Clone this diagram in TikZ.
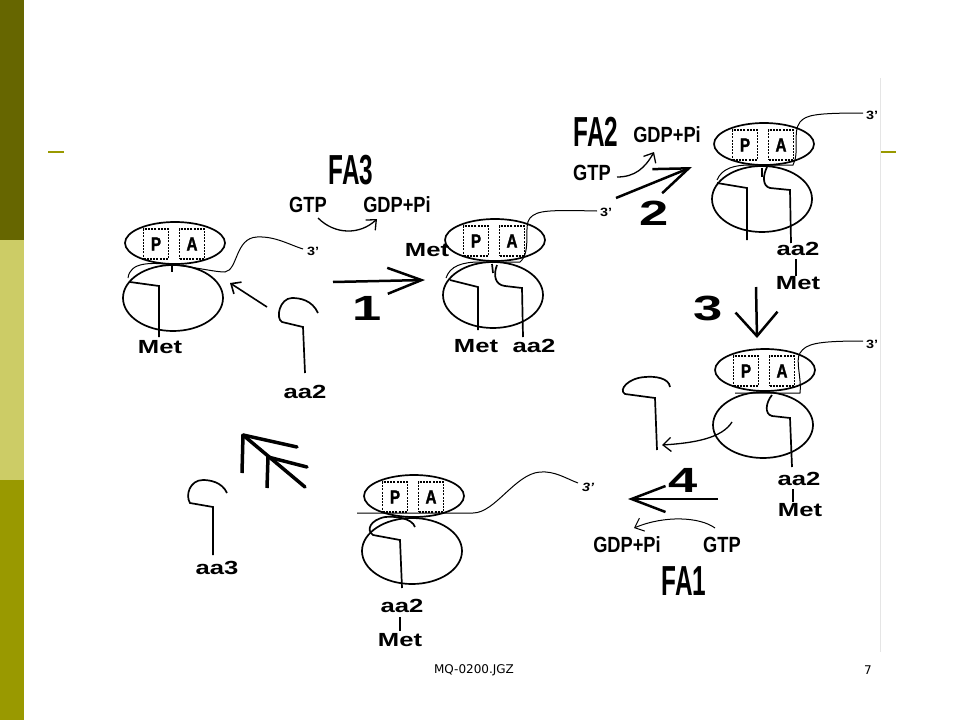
\documentclass[tikz,border=0pt]{standalone}
\usepackage{fontspec}
\setmainfont{Liberation Sans}
\newfontfamily\footfont{DejaVu Sans}
\newfontfamily\sitefont[FakeStretch=0.8,FakeBold=1.5]{Liberation Sans Bold}
\usetikzlibrary{shapes.geometric,arrows.meta}
\definecolor{olivedark}{RGB}{102,102,0}
\definecolor{olivelight}{RGB}{204,204,102}
\definecolor{olivemid}{RGB}{153,153,0}

\begin{document}
\begin{tikzpicture}[x=1pt,y=-1pt,
    big/.style={draw,ellipse,line width=1.7pt,minimum width=100pt,minimum height=42pt,inner sep=0pt},
    small/.style={draw,ellipse,line width=1.7pt,minimum width=100pt,minimum height=66pt,inner sep=0pt},
    site/.style={draw,dash pattern=on 2pt off 1.2pt,line width=1.2pt,minimum width=25pt,minimum height=30pt,inner sep=0pt,font=\sitefont\fontsize{19}{19}\selectfont},
    mrna/.style={line width=1pt},
    trna/.style={line width=1.7pt},
    lbl/.style={inner sep=0pt,xscale=1.35,font=\fontsize{19}{19}\bfseries},
    prime/.style={inner sep=0pt,xscale=1.2,font=\fontsize{12}{12}\bfseries},
    num/.style={inner sep=0pt,xscale=1.5,font=\fontsize{35}{35}\bfseries},
    fa/.style={inner sep=0pt,xscale=0.58,font=\fontsize{42}{42}\bfseries},
    gtp/.style={inner sep=0pt,xscale=0.83,font=\fontsize{22}{22}\bfseries},
    stepar/.style={line width=2.5pt,-{Straight Barb[length=34pt,width=26pt]}},
    thinar/.style={line width=1.3pt,-{Straight Barb[length=8pt,width=14pt]}}]
  \useasboundingbox (0,0) rectangle (960,720);
  \fill[white] (0,0) rectangle (960,720);
  % slide frame
  \fill[olivedark] (0,0) rectangle (24,240);
  \fill[olivelight] (0,240) rectangle (24,480);
  \fill[olivemid] (0,480) rectangle (24,720);
  \draw[olivemid,line width=2pt] (48,152) -- (64,152);
  \draw[olivemid,line width=2pt] (880,152) -- (896,152);
  \draw[gray!20] (880,78) -- (880,652);
  \node[font={\footfont\fontsize{12}{12}\selectfont}] (foot) at (474,670) {MQ-0200.JGZ};
  \node[font={\footfont\fontsize{12}{12}\selectfont}] (page) at (868,670) {7};

  % ribosomes
  \foreach \n/\x/\y in {ra/175/243, rb/495/240, rc/764/144, rd/765/370, re/414/496}{
    \node[big] (\n-big) at (\x,\y) {};
    \node[small] (\n-small) at ({\x-2},{\y+55}) {};
    \node[site] (\n-p) at ({\x-19},{\y+1}) {P};
    \node[site] (\n-a) at ({\x+17},{\y+1}) {A};
  }

  % ribosome a
  \draw[mrna] (128,278) .. controls (130,262) and (150,262) .. (175,265) .. controls (200,268) and (215,272) .. (225,272) .. controls (238,270) and (235,238) .. (257,237) .. controls (275,236) and (290,245) .. (303,249);
  \node[prime] (ra-3) at (313,251) {3'};
  \draw[trna] (130,282) -- (159,286) -- (159,337);
  \draw[trna] (172,263) -- (172,272);
  \node[lbl] (ra-met) at (160,347) {Met};
  \draw[trna] (318,313) .. controls (312,300) and (300,298) .. (292,298) .. controls (280,298) and (275,318) .. (282,322) -- (303,327) -- (305,373);
  \node[lbl] (aa2-free) at (305,392) {aa2};
  \draw[thinar,line width=1.6pt] (267,307) -- (230,283);

  % step 1
  \node[fa] (fa3) at (351,170) {FA3};
  \node[gtp] (gtp3) at (308,205) {GTP};
  \node[gtp] (gdp3) at (397,205) {GDP+Pi};
  \draw[thinar] (318,218) .. controls (335,235) and (360,235) .. (377,219);
  \coordinate (s1a) at (333,282);
  \coordinate (s1b) at (425,280);
  \draw[stepar] (s1a) -- (s1b);
  \node[num] (n1) at (367,308) {1};

  % ribosome b
  \node[lbl] (rb-met0) at (427,250) {Met};
  \draw[mrna] (446,278) .. controls (450,266) and (462,262) .. (480,262) -- (520,262) .. controls (532,252) and (523,225) .. (530,218) .. controls (537,210) and (550,210) .. (597,211);
  \node[prime] (rb-3) at (606,212) {3'};
  \draw[trna] (450,280) -- (478,287) -- (478,330);
  \draw[trna] (492,264) -- (493,273);
  \draw[trna] (497,265) .. controls (493,275) and (495,285) .. (505,286) -- (522,288) -- (523,337);
  \node[lbl] (rb-met) at (476,346) {Met};
  \node[lbl] (rb-aa) at (534,346) {aa2};

  % step 2
  \node[fa] (fa2) at (596,132) {FA2};
  \node[gtp] (gdp2) at (667,135) {GDP+Pi};
  \node[gtp] (gtp2) at (592,173) {GTP};
  \draw[thinar] (617,177) .. controls (635,177) and (645,168) .. (654,152);
  \coordinate (s2a) at (616,198);
  \coordinate (s2b) at (692,167);
  \draw[stepar] (s2a) -- (s2b);
  \node[num] (n2) at (654,213) {2};

  % ribosome c
  \draw[mrna] (717,180) .. controls (722,168) and (735,165) .. (750,165) -- (793,165) .. controls (800,152) and (792,132) .. (800,122) .. controls (806,115) and (815,113) .. (863,113);
  \node[prime] (rc-3) at (872,115) {3'};
  \draw[trna] (717,183) -- (747,188) -- (747,240);
  \draw[trna] (762,168) -- (762,177);
  \draw[trna] (767,167) .. controls (763,175) and (762,186) .. (770,188) -- (790,190) -- (791,243);
  \node[lbl] (rc-aa) at (798,249) {aa2};
  \draw[trna] (796,259) -- (796,276);
  \node[lbl] (rc-met) at (798,283) {Met};

  % step 3
  \coordinate (s3a) at (756,287);
  \coordinate (s3b) at (757,338);
  \draw[line width=2.5pt,-{Straight Barb[length=24pt,width=42pt]}] (s3a) -- (s3b);
  \node[num] (n3) at (708,308) {3};

  % ribosome d
  \draw[mrna] (735,393) -- (800,393) .. controls (802,380) and (795,360) .. (800,353) .. controls (806,344) and (815,341) .. (863,341);
  \node[prime] (rd-3) at (872,344) {3'};
  \draw[trna] (772,395) .. controls (766,402) and (764,414) .. (772,416) -- (790,418) -- (792,467);
  \node[lbl] (rd-aa) at (799,479) {aa2};
  \draw[trna] (793,489) -- (793,502);
  \node[lbl] (rd-met) at (800,510) {Met};
  \draw[thinar] (732,422) .. controls (722,438) and (695,443) .. (662,445);
  \draw[trna] (670,387) .. controls (669,378) and (655,376) .. (645,377) .. controls (628,378) and (618,390) .. (625,394) -- (655,398) -- (657,450);

  % step 4
  \coordinate (s4a) at (718,499);
  \coordinate (s4b) at (628,499);
  \draw[stepar] (s4a) -- (s4b);
  \node[num] (n4) at (683,480) {4};
  \node[gtp] (gdp1) at (627,545) {GDP+Pi};
  \node[gtp] (gtp1) at (722,545) {GTP};
  \node[fa] (fa1) at (684,581) {FA1};
  \draw[thinar,line width=1pt] (715,528) .. controls (700,517) and (665,515) .. (634,528);

  % ribosome e
  \draw[mrna] (357,513) -- (473,513) .. controls (495,513) and (515,474) .. (540,472) .. controls (555,471) and (565,478) .. (578,483);
  \node[prime,font=\fontsize{12}{12}\bfseries\itshape] (re-3) at (588,487) {3'};
  \draw[trna] (415,527) .. controls (412,518) and (395,516) .. (385,517) .. controls (370,520) and (366,530) .. (373,535) -- (400,540) -- (402,588);
  \node[lbl] (re-aa) at (402,606) {aa2};
  \draw[trna] (400,617) -- (400,631);
  \node[lbl] (re-met) at (400,640) {Met};

  % aa3 and exit arrows
  \draw[trna] (227,493) .. controls (222,482) and (210,480) .. (203,480) .. controls (190,480) and (185,495) .. (190,503) -- (213,507) -- (213,555);
  \node[lbl] (aa3) at (217,568) {aa3};
  \draw[line width=3.5pt,line cap=round] (243,435) -- (305,487);
  \draw[line width=3.5pt,line cap=round] (243,435) -- (297,447);
  \draw[line width=3.5pt] (243,435) -- (242,473);
  \draw[line width=3.5pt,line cap=round] (268,457) -- (307,467);
  \draw[line width=3.5pt] (268,457) -- (267,488);
\end{tikzpicture}
\end{document}
